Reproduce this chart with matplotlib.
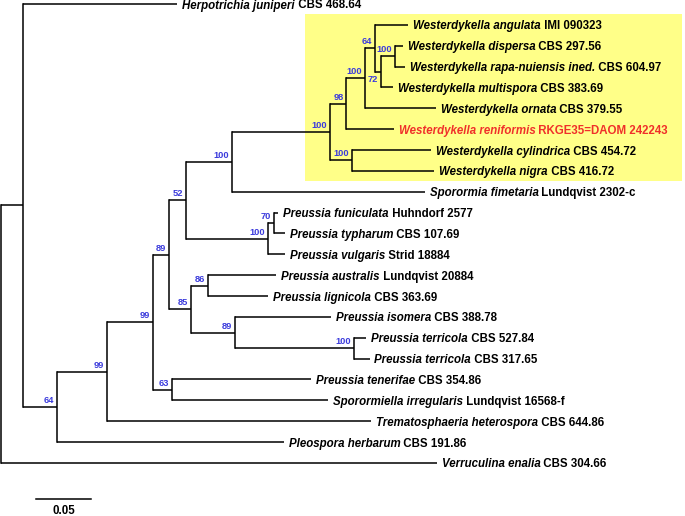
import matplotlib
matplotlib.use("Agg")
import matplotlib.pyplot as plt

# ---------------- data ----------------
node_names = ["root", "A", "Herpotrichia juniperi", "n64", "n99b", "n99a", "n89", "n52",
              "n100W", "nW", "n98", "n100a", "n64W", "Westerdykella angulata", "n72", "n100d",
              "Westerdykella dispersa", "Westerdykella rapa-nuiensis ined.", "Westerdykella multispora",
              "Westerdykella ornata", "Westerdykella reniformis", "n100cyl", "Westerdykella cylindrica",
              "Westerdykella nigra", "Sporormia fimetaria", "n100P", "n70", "Preussia funiculata",
              "Preussia typharum", "Preussia vulgaris", "n85", "n86", "Preussia australis",
              "Preussia lignicola", "n89b", "Preussia isomera", "n100t", "Preussia terricola ",
              "Preussia terricola", "n63", "Preussia tenerifae", "Sporormiella irregularis",
              "Trematosphaeria heterospora", "Pleospora herbarum", "Verruculina enalia"]
node_parents = [None, "root", "A", "A", "n64", "n99b", "n99a", "n89",
                "n52", "n100W", "nW", "n98", "n100a", "n64W", "n64W", "n72",
                "n100d", "n100d", "n72",
                "n100a", "n98", "nW", "n100cyl",
                "n100cyl", "n100W", "n52", "n100P", "n70",
                "n70", "n100P", "n89", "n85", "n86",
                "n86", "n85", "n89b", "n89b", "n100t",
                "n100t", "n99a", "n63", "n63",
                "n99b", "n64", "root"]
branch_lengths = [0.0, 0.020, 0.140, 0.031, 0.045, 0.042, 0.015, 0.015,
                  0.042, 0.089, 0.015, 0.017, 0.009, 0.030, 0.005, 0.013,
                  0.007, 0.009, 0.011,
                  0.064, 0.043, 0.020, 0.072,
                  0.075, 0.175, 0.075, 0.005, 0.004,
                  0.010, 0.015, 0.020, 0.015, 0.062,
                  0.055, 0.040, 0.087, 0.108, 0.011,
                  0.014, 0.017, 0.127, 0.142,
                  0.240, 0.206, 0.396]
bootstrap = {"n64": 64, "n99b": 99, "n99a": 99, "n89": 89, "n52": 52, "n100W": 100,
             "nW": 100, "n98": 98, "n100a": 100, "n64W": 64, "n72": 72, "n100d": 100,
             "n100cyl": 100, "n100P": 100, "n70": 70, "n85": 85, "n86": 86, "n89b": 89,
             "n100t": 100, "n63": 63}
strains = {"Herpotrichia juniperi": "CBS 468.64",
           "Westerdykella angulata": "IMI 090323",
           "Westerdykella dispersa": "CBS 297.56",
           "Westerdykella rapa-nuiensis ined.": "CBS 604.97",
           "Westerdykella multispora": "CBS 383.69",
           "Westerdykella ornata": "CBS 379.55",
           "Westerdykella reniformis": "RKGE35=DAOM 242243",
           "Westerdykella cylindrica": "CBS 454.72",
           "Westerdykella nigra": "CBS 416.72",
           "Sporormia fimetaria": "Lundqvist 2302-c",
           "Preussia funiculata": "Huhndorf 2577",
           "Preussia typharum": "CBS 107.69",
           "Preussia vulgaris": "Strid 18884",
           "Preussia australis": "Lundqvist 20884",
           "Preussia lignicola": "CBS 363.69",
           "Preussia isomera": "CBS 388.78",
           "Preussia terricola ": "CBS 527.84",
           "Preussia terricola": "CBS 317.65",
           "Preussia tenerifae": "CBS 354.86",
           "Sporormiella irregularis": "Lundqvist 16568-f",
           "Trematosphaeria heterospora": "CBS 644.86",
           "Pleospora herbarum": "CBS 191.86",
           "Verruculina enalia": "CBS 304.66"}
highlight_taxon = "Westerdykella reniformis"
highlight_clade = "nW"
scale_value = 0.05

# ---------------- layout ----------------
children = {n: [] for n in node_names}
parent_of = dict(zip(node_names, node_parents))
length_of = dict(zip(node_names, branch_lengths))
for n, p in zip(node_names, node_parents):
    if p is not None:
        children[p].append(n)

xpos, ypos = {}, {}
tips = []
def place_x(n, x0):
    xpos[n] = x0
    for c in children[n]:
        place_x(c, x0 + length_of[c])
place_x("root", 0.0)

def place_y(n):
    if not children[n]:
        ypos[n] = len(tips)
        tips.append(n)
    else:
        for c in children[n]:
            place_y(c)
        ypos[n] = (ypos[children[n][0]] + ypos[children[n][-1]]) / 2
place_y("root")

W, H, DPI = 6.85, 5.16, 100
fig = plt.figure(figsize=(W, H), dpi=DPI)
ax = fig.add_axes([0, 0, 1, 1])
ax.set_axis_off()
px = 1 / 1100.0       # data units per pixel in x
py = 1 / 20.86        # data units per pixel in y
ax.set_xlim(-1 * px, 684 * px)
ax.set_ylim((516 - 4) * py, -4 * py)

plt.rcParams['font.family'] = ['Liberation Sans', 'DejaVu Sans']

# highlight box
def clade_tips(n):
    if not children[n]:
        return [n]
    out = []
    for c in children[n]:
        out += clade_tips(c)
    return out
ct = clade_tips(highlight_clade)
y0 = min(ypos[t] for t in ct) - 0.5
y1 = max(ypos[t] for t in ct) + 0.5
bx0 = xpos[highlight_clade] - 25 * px
ax.add_patch(plt.Rectangle((bx0, y0), 681 * px - bx0, y1 - y0, facecolor="#FFFF88",
                           edgecolor="none", zorder=0))

lw = 1.1
for n in node_names:
    p = parent_of[n]
    if p is not None:
        ax.plot([xpos[p], xpos[n]], [ypos[n], ypos[n]], color="black", lw=lw,
                solid_capstyle="butt", zorder=2)
    if children[n]:
        ys = [ypos[c] for c in children[n]]
        ax.plot([xpos[n], xpos[n]], [min(ys), max(ys)], color="black", lw=lw,
                solid_capstyle="projecting", zorder=2)

FS = 8.3
for t in tips:
    col = "#F0302A" if t == highlight_taxon else "black"
    t1 = ax.annotate(t.strip(), xy=(xpos[t], ypos[t]), xytext=(5, 0), textcoords="offset pixels",
                     ha="left", va="center_baseline", fontsize=FS, fontstyle="italic",
                     fontweight="bold", color=col, zorder=3)
    ax.annotate(" " + strains[t], xy=(1, 0), xycoords=t1, ha="left", va="bottom",
                fontsize=FS, fontweight="bold", color=col, zorder=3)

BFS = 6.7
for n, b in bootstrap.items():
    if n == "n72":
        ax.annotate(str(b), xy=(xpos[n], ypos[n]), xytext=(-3, -3), textcoords="offset pixels",
                    ha="right", va="top", fontsize=BFS, fontweight="bold", color="#3B3BDC")
    else:
        ax.annotate(str(b), xy=(xpos[n], ypos[n]), xytext=(-3, 2), textcoords="offset pixels",
                    ha="right", va="bottom", fontsize=BFS, fontweight="bold", color="#3B3BDC")

# scale bar
sx0 = 35 * px
sy = (499 - 4) * py
ax.plot([sx0, sx0 + scale_value], [sy, sy], color="black", lw=lw)
ax.annotate(f"{scale_value:.2f}", xy=(sx0 + scale_value / 2, sy), xytext=(0, -12),
            textcoords="offset pixels", ha="center", va="center", fontsize=8.3,
            fontweight="bold")

fig.savefig("out.png", dpi=DPI)
